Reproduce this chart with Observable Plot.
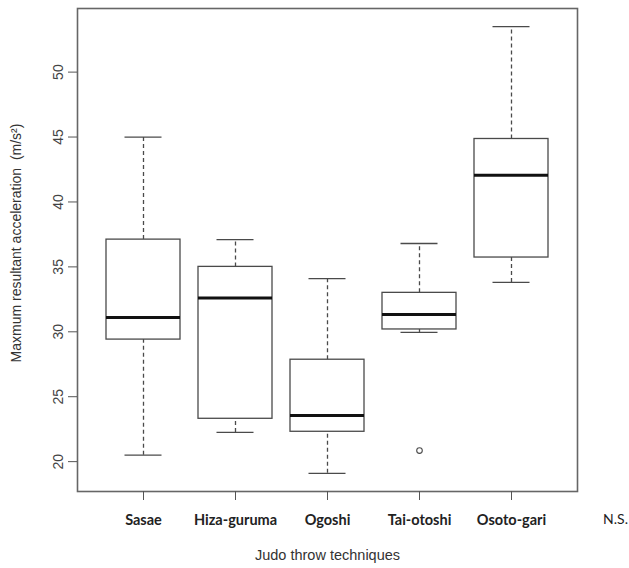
<!DOCTYPE html>
<html>
<head>
<meta charset="utf-8">
<script src="https://cdn.jsdelivr.net/npm/d3@7"></script>
<script src="https://cdn.jsdelivr.net/npm/@observablehq/plot@0.6"></script>
<style>
  html, body { margin: 0; padding: 0; background: #fff; }
  #chart svg { display: block; }
</style>
</head>
<body>
<div id="chart"></div>
<script>
const categories = ["Sasae", "Hiza-guruma", "Ogoshi", "Tai-otoshi", "Osoto-gari"];
const whiskerLow  = [20.5, 22.25, 19.1, 29.95, 33.8];
const q1          = [29.4, 23.3, 22.3, 30.18, 35.72];
const median      = [31.1, 32.6, 23.56, 31.33, 42.05];
const q3          = [37.1, 35.0, 27.85, 33.0, 44.85];
const whiskerHigh = [45.0, 37.1, 34.1, 36.8, 53.5];
const outlierTech = ["Tai-otoshi"];
const outlierVals = [20.85];
const yTicks = [20, 25, 30, 35, 40, 45, 50];
const extraLabel = "N.S.";

const boxes = categories.map((c, i) => ({
  tech: c, lo: whiskerLow[i], q1: q1[i], med: median[i], q3: q3[i], hi: whiskerHigh[i]
}));
const outliers = outlierTech.map((t, i) => ({tech: t, value: outlierVals[i]}));

const ink = "#4a4a4a";

const chart = Plot.plot({
  width: 629,
  height: 568,
  marginLeft: 77,
  marginRight: 52,
  marginTop: 8,
  marginBottom: 77,
  style: {background: "#fff"},
  x: {type: "band", domain: categories, paddingInner: 0.2, paddingOuter: 0.3},
  y: {domain: [17.7, 54.9]},
  marks: [
    Plot.ruleX(boxes, {x: "tech", y1: "q3", y2: "hi", stroke: ink, strokeWidth: 1.3, strokeDasharray: "4,3"}),
    Plot.ruleX(boxes, {x: "tech", y1: "lo", y2: "q1", stroke: ink, strokeWidth: 1.3, strokeDasharray: "4,3"}),
    Plot.tickY(boxes, {x: "tech", y: "hi", stroke: ink, strokeWidth: 1.3, insetLeft: 18.5, insetRight: 18.5}),
    Plot.tickY(boxes, {x: "tech", y: "lo", stroke: ink, strokeWidth: 1.3, insetLeft: 18.5, insetRight: 18.5}),
    Plot.barY(boxes, {x: "tech", y1: "q1", y2: "q3", fill: "#fff", stroke: ink, strokeWidth: 1.3}),
    Plot.tickY(boxes, {x: "tech", y: "med", stroke: "#111", strokeWidth: 3}),
    Plot.dot(outliers, {x: "tech", y: "value", r: 2.8, stroke: ink, strokeWidth: 1.1, fill: "none"}),
    Plot.frame({stroke: "#666", strokeWidth: 1.6}),
    Plot.axisY(yTicks, {
      tickSize: 9, tickPadding: 6, tickRotate: -90, fontSize: 14,
      fontFamily: "Liberation Sans, Arial, sans-serif", fill: "#444", stroke: "#555",
      label: "Maxmum resultant acceleration  (m/s²)", labelAnchor: "center", labelOffset: 66, labelArrow: "none"
    }),
    Plot.axisX({
      tickSize: 9, tickPadding: 14, fontSize: 14.5, fontWeight: "bold",
      fontFamily: "Lato, 'Open Sans', sans-serif", fill: "#222", stroke: "#555",
      label: "Judo throw techniques", labelAnchor: "center", labelOffset: 68, labelArrow: "none"
    }),
    Plot.text([extraLabel], {frameAnchor: "bottom-right", textAnchor: "middle", dx: 38, dy: 32, fontSize: 14, fontFamily: "Lato, 'Open Sans', sans-serif", fill: "#222"})
  ]
});

// axis titles: regular weight, sans-serif
chart.querySelectorAll("g[aria-label='y-axis label'], g[aria-label='x-axis label']").forEach(g => {
  const isY = g.getAttribute("aria-label") === "y-axis label";
  g.setAttribute("font-size", isY ? "14" : "14.5");
  g.setAttribute("font-weight", "normal");
  g.setAttribute("font-family", "Liberation Sans, Arial, sans-serif");
  g.setAttribute("fill", "#333");
  g.querySelectorAll("text").forEach(t => {
    t.setAttribute("font-weight", "normal");
    t.setAttribute("font-family", "Liberation Sans, Arial, sans-serif");
    if (isY) t.setAttribute("dx", "7");
  });
});
document.getElementById("chart").appendChild(chart);
</script>
</body>
</html>
